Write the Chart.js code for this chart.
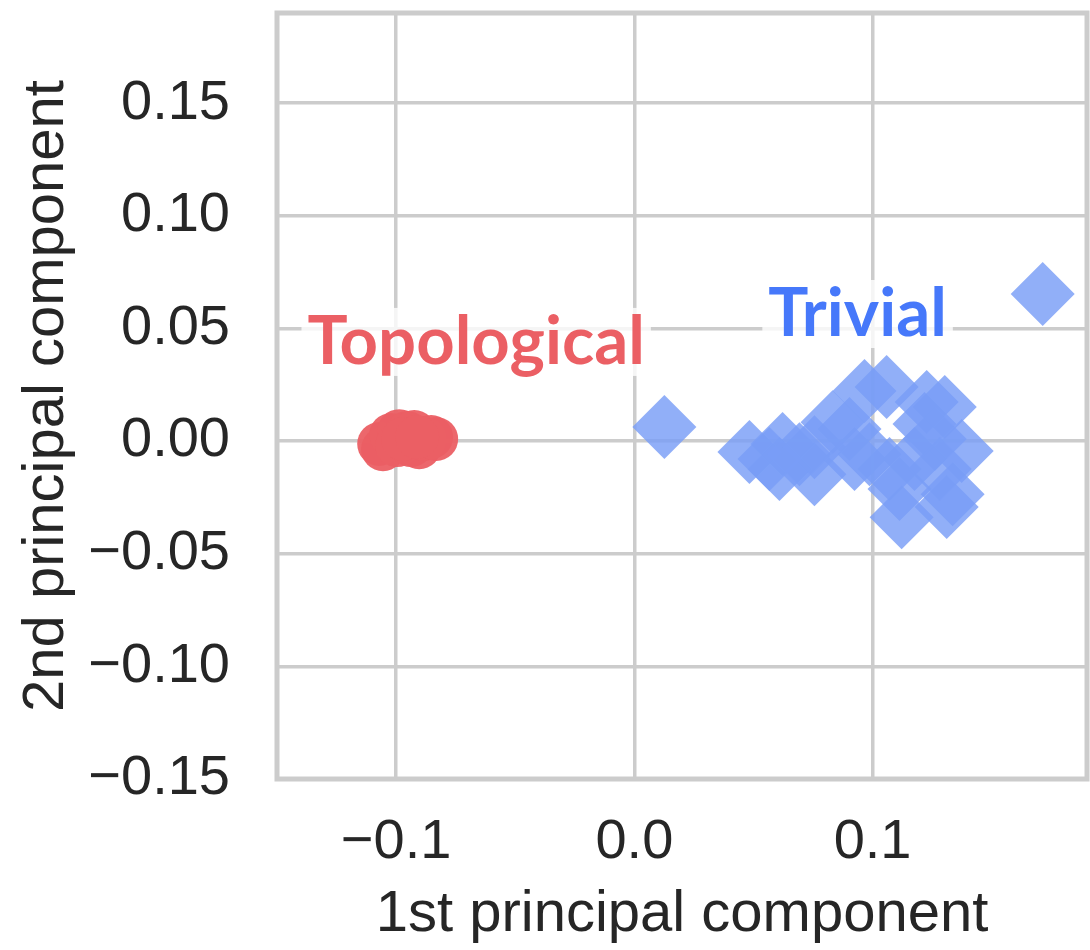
<!DOCTYPE html>
<html>
<head>
<meta charset="utf-8">
<script src="https://cdn.jsdelivr.net/npm/chart.js@4"></script>
<style>
  html, body { margin: 0; padding: 0; background: #fff; }
  canvas { display: block; }
</style>
</head>
<body>
<canvas id="pcaChart" width="1090" height="950"></canvas>
<script>
// PCA projection
const topoX = [-0.1071, -0.1055, -0.1021, -0.0987, -0.0954, -0.0924, -0.0996, -0.0937, -0.0903, -0.0882, -0.0853, -0.0832, -0.0971, -0.0912];
const topoY = [-0.0013, -0.0036, 0.0027, 0.0044, 0.0036, 0.0040, -0.0018, -0.0018, -0.0027, 0.0009, 0.0018, 0.0009, 0.0009, 0.0018];

const trivX = [0.0126, 0.1714, 0.0483, 0.0622, 0.0609, 0.0756, 0.0693, 0.0832, 0.0567, 0.0756, 0.0966, 0.1059, 0.1227, 0.1303,
  0.1374, 0.1122, 0.1311, 0.1336, 0.0987, 0.1071, 0.1176, 0.1261, 0.1218, 0.0903, 0.1113, 0.1282, 0.0924];
const trivY = [0.0062, 0.0653, -0.0049, -0.0013, -0.0124, -0.0147, -0.0058, 0.0084, -0.0080, -0.0027, 0.0222, 0.0240, 0.0173, 0.0151,
  -0.0044, -0.0338, -0.0293, -0.0236, -0.0058, -0.0124, -0.0080, 0.0009, 0.0076, 0.0053, -0.0213, -0.0124, -0.0080];

const xTicks = [-0.1, 0.0, 0.1];
const yTicks = [-0.15, -0.10, -0.05, 0.00, 0.05, 0.10, 0.15];

const groupNames = ['Topological', 'Trivial'];
const labelX = [-0.0664, 0.0937];
const labelY = [0.044, 0.0564];

const RED = 'rgb(235,95,100)';
const BLUE = 'rgb(70,120,250)';
const GRID = '#cccccc';
const INK = '#262626';
const FONT = '"Liberation Sans", Arial, sans-serif';

const minus = v => String(v).replace('-', '\u2212');
const noPad = s => { s.paddingTop = 0; s.paddingBottom = 0; s.paddingLeft = 0; s.paddingRight = 0; };

// full frame around the plot, like the seaborn whitegrid spines
const frame = {
  id: 'frame',
  beforeDatasetsDraw(chart) {
    const a = chart.chartArea, c = chart.ctx;
    c.save();
    c.strokeStyle = GRID;
    c.lineWidth = 5;
    c.strokeRect(a.left, a.top, a.right - a.left, a.bottom - a.top);
    c.restore();
  }
};

// group labels with a translucent white box
const groupLabels = {
  id: 'groupLabels',
  afterDatasetsDraw(chart) {
    const c = chart.ctx, xs = chart.scales.x, ys = chart.scales.y;
    const colors = [RED, BLUE];
    c.save();
    c.font = 'bold 67px Lato, sans-serif';
    c.textAlign = 'center';
    c.textBaseline = 'middle';
    groupNames.forEach((name, i) => {
      const px = xs.getPixelForValue(labelX[i]);
      const py = ys.getPixelForValue(labelY[i]);
      const w = c.measureText(name).width;
      c.fillStyle = 'rgba(255,255,255,0.8)';
      c.fillRect(px - w / 2 - 6, py - 34, w + 12, 68);
      c.fillStyle = colors[i];
      c.fillText(name, px, py);
    });
    c.restore();
  }
};

new Chart(document.getElementById('pcaChart'), {
  type: 'scatter',
  data: {
    datasets: [
      {
        label: groupNames[0],
        data: topoX.map((x, i) => ({ x: x, y: topoY[i] })),
        pointStyle: 'circle',
        pointRadius: 22,
        backgroundColor: 'rgba(235,95,100,0.95)',
        borderWidth: 0
      },
      {
        label: groupNames[1],
        data: trivX.map((x, i) => ({ x: x, y: trivY[i] })),
        pointStyle: 'rectRot',
        pointRadius: 32,
        backgroundColor: 'rgba(121,157,246,0.82)',
        borderWidth: 0
      }
    ]
  },
  options: {
    responsive: false,
    animation: false,
    layout: { autoPadding: false, padding: { top: 13, right: 3, left: 0, bottom: 0 } },
    plugins: { legend: { display: false }, tooltip: { enabled: false } },
    scales: {
      x: {
        type: 'linear',
        min: -0.15,
        max: 0.19,
        afterBuildTicks: s => { s.ticks = xTicks.map(v => ({ value: v })); },
        afterFit: s => { s.height = 171; noPad(s); },
        border: { display: false },
        grid: { color: GRID, lineWidth: 3.5, drawTicks: false },
        ticks: {
          font: { family: FONT, size: 56 },
          color: INK,
          padding: 30,
          maxRotation: 0,
          callback: v => minus(v.toFixed(1))
        },
        title: {
          display: true,
          text: '1st principal component',
          font: { family: FONT, size: 58 },
          color: INK,
          padding: { top: 0, bottom: 0 }
        }
      },
      y: {
        type: 'linear',
        min: -0.15,
        max: 0.19,
        afterBuildTicks: s => { s.ticks = yTicks.map(v => ({ value: v })); },
        afterFit: s => { s.width = 277; noPad(s); },
        border: { display: false },
        grid: { color: GRID, lineWidth: 3.5, drawTicks: false },
        ticks: {
          font: { family: FONT, size: 56 },
          color: INK,
          padding: 47,
          callback: v => minus(v.toFixed(2))
        },
        title: {
          display: true,
          text: '2nd principal component',
          font: { family: FONT, size: 58 },
          color: INK,
          padding: { top: 12, bottom: 0 }
        }
      }
    }
  },
  plugins: [frame, groupLabels]
});
</script>
</body>
</html>
